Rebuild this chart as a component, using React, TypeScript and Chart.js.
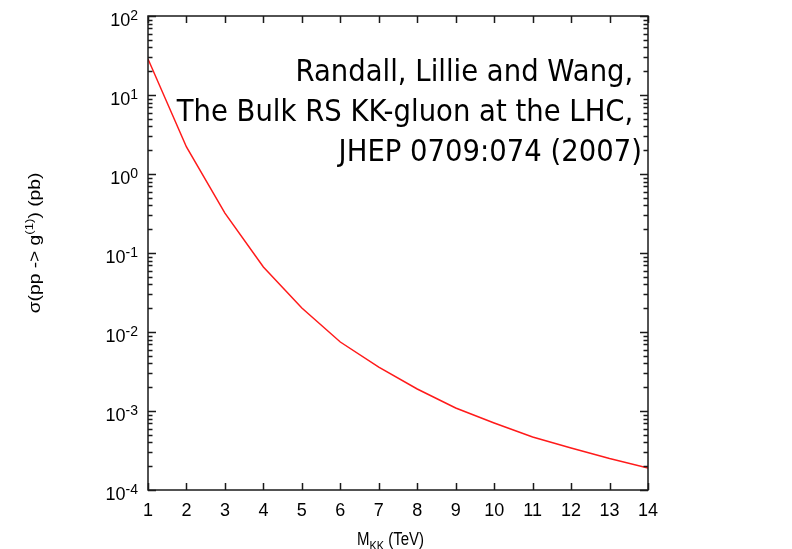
import { useEffect, useRef } from "react";
import { Chart, registerables } from "chart.js";

Chart.register(...registerables);

// ---- data ----
const massTeV = [1, 2, 3, 4, 5, 6, 7, 8, 9, 10, 11, 12, 13, 14];
const sigmaPb = [
  28.6, 2.2, 0.32, 0.0665, 0.0201, 0.00747, 0.0036, 0.0019, 0.00109,
  0.000705, 0.000469, 0.00034, 0.00025, 0.00019,
];
const xTickValues = [1, 2, 3, 4, 5, 6, 7, 8, 9, 10, 11, 12, 13, 14];
const yDecadeExponents = [2, 1, 0, -1, -2, -3, -4];
const annotationLines = [
  "Randall, Lillie and Wang, ",
  "The Bulk RS KK-gluon at the LHC, ",
  "JHEP 0709:074 (2007)",
];
const xTitleParts = [
  { text: "M", size: 15, dy: 0 },
  { text: "KK", size: 11, dy: 4 },
  { text: " (TeV)", size: 15, dy: 0 },
];
const yTitleParts = [
  { text: "σ(pp -> g", size: 16, dy: 0 },
  { text: "(1)", size: 11, dy: -7 },
  { text: ") (pb)", size: 16, dy: 0 },
];

const W = 792;
const H = 549;
const SANS = "'Liberation Sans', Arial, Helvetica, sans-serif";
const DEJAVU = "'DejaVu Sans', sans-serif";

type Part = { text: string; size: number; dy: number };

function richWidth(ctx: CanvasRenderingContext2D, parts: Part[]) {
  let w = 0;
  for (const p of parts) {
    ctx.font = `${p.size}px ${SANS}`;
    w += ctx.measureText(p.text).width;
  }
  return w;
}

function drawRich(
  ctx: CanvasRenderingContext2D,
  parts: Part[],
  x: number,
  y: number
) {
  let cx = x;
  for (const p of parts) {
    ctx.font = `${p.size}px ${SANS}`;
    ctx.fillText(p.text, cx, y + p.dy);
    cx += ctx.measureText(p.text).width;
  }
}

const decorPlugin = {
  id: "decor",
  afterDraw(chart: any) {
    const ctx: CanvasRenderingContext2D = chart.ctx;
    const { left, right, top, bottom } = chart.chartArea;
    const xs = chart.scales.x;
    const ys = chart.scales.y;
    ctx.save();
    ctx.fillStyle = "#000";
    ctx.strokeStyle = "#1a1a1a";
    ctx.lineWidth = 1.5;

    // frame
    ctx.strokeRect(left, top, right - left, bottom - top);

    // y ticks (major + minor), both sides, inward
    ctx.beginPath();
    for (let i = 0; i < yDecadeExponents.length; i++) {
      const e = yDecadeExponents[i];
      const v = Math.pow(10, e);
      const py = Math.round(ys.getPixelForValue(v)) + 0.5;
      ctx.moveTo(left, py);
      ctx.lineTo(left + 8, py);
      ctx.moveTo(right, py);
      ctx.lineTo(right - 8, py);
      if (e > -4) {
        for (let m = 2; m <= 9; m++) {
          const mv = m * Math.pow(10, e - 1);
          const my = Math.round(ys.getPixelForValue(mv)) + 0.5;
          ctx.moveTo(left, my);
          ctx.lineTo(left + 4.5, my);
          ctx.moveTo(right, my);
          ctx.lineTo(right - 4.5, my);
        }
      }
    }
    // x ticks, top and bottom, inward
    for (const t of xTickValues) {
      const px = Math.round(xs.getPixelForValue(t)) + 0.5;
      ctx.moveTo(px, bottom);
      ctx.lineTo(px, bottom - 7);
      ctx.moveTo(px, top);
      ctx.lineTo(px, top + 7);
    }
    ctx.stroke();

    // y tick labels 10^e
    ctx.textBaseline = "alphabetic";
    ctx.textAlign = "left";
    for (const e of yDecadeExponents) {
      const py = ys.getPixelForValue(Math.pow(10, e));
      ctx.font = `14px ${SANS}`;
      const supW = ctx.measureText(String(e)).width;
      ctx.font = `18px ${SANS}`;
      const baseW = ctx.measureText("10").width;
      const supX = 138 - supW;
      const baseX = supX - baseW;
      ctx.fillText("10", baseX, py + 10);
      ctx.font = `14px ${SANS}`;
      ctx.fillText(String(e), supX, py + 4);
    }

    // x tick labels
    ctx.font = `18px ${SANS}`;
    ctx.textAlign = "center";
    for (const t of xTickValues) {
      const px = xs.getPixelForValue(t);
      ctx.fillText(String(t), px, bottom + 26);
    }

    // x title (slightly tall glyphs)
    ctx.textAlign = "left";
    {
      const w = richWidth(ctx, xTitleParts);
      ctx.save();
      ctx.translate(0, 545);
      ctx.scale(1, 1.2);
      drawRich(ctx, xTitleParts, 390.5 - w / 2, 0);
      ctx.restore();
    }

    // y title rotated
    {
      const w = richWidth(ctx, yTitleParts);
      ctx.save();
      ctx.translate(40, 243);
      ctx.rotate(-Math.PI / 2);
      ctx.scale(1.2, 1);
      drawRich(ctx, yTitleParts, -w / 2, 0);
      ctx.restore();
    }

    // annotation
    ctx.font = `27.5px ${DEJAVU}`;
    ctx.textAlign = "right";
    const baselines = [81, 121, 161];
    annotationLines.forEach((line, i) => {
      ctx.save();
      ctx.translate(642, baselines[i]);
      ctx.scale(1, 1.12);
      ctx.fillText(line, 0, 0);
      ctx.restore();
    });

    ctx.restore();
  },
};

export default function App() {
  const ref = useRef<HTMLCanvasElement | null>(null);

  useEffect(() => {
    document.body.style.margin = "0";
    const canvas = ref.current;
    if (!canvas) return;
    const chart = new Chart(canvas, {
      type: "line",
      data: {
        datasets: [
          {
            data: massTeV.map((m, i) => ({ x: m, y: sigmaPb[i] })),
            borderColor: "#ff1a1a",
            borderWidth: 1.5,
            pointRadius: 0,
            tension: 0,
            fill: false,
          },
        ],
      },
      options: {
        responsive: false,
        animation: false,
        devicePixelRatio: 1,
        layout: { padding: { left: 148, top: 16, right: W - 648, bottom: H - 490 } },
        plugins: {
          legend: { display: false },
          tooltip: { enabled: false },
          title: { display: false },
        },
        scales: {
          x: { type: "linear", min: 1, max: 14, display: false },
          y: { type: "logarithmic", min: 1e-4, max: 100, display: false },
        },
      },
      plugins: [decorPlugin],
    });
    return () => chart.destroy();
  }, []);

  return (
    <div style={{ position: "fixed", left: 0, top: 0, width: W, height: H, background: "#fff" }}>
      <canvas ref={ref} width={W} height={H} style={{ width: W, height: H, display: "block" }} />
    </div>
  );
}
